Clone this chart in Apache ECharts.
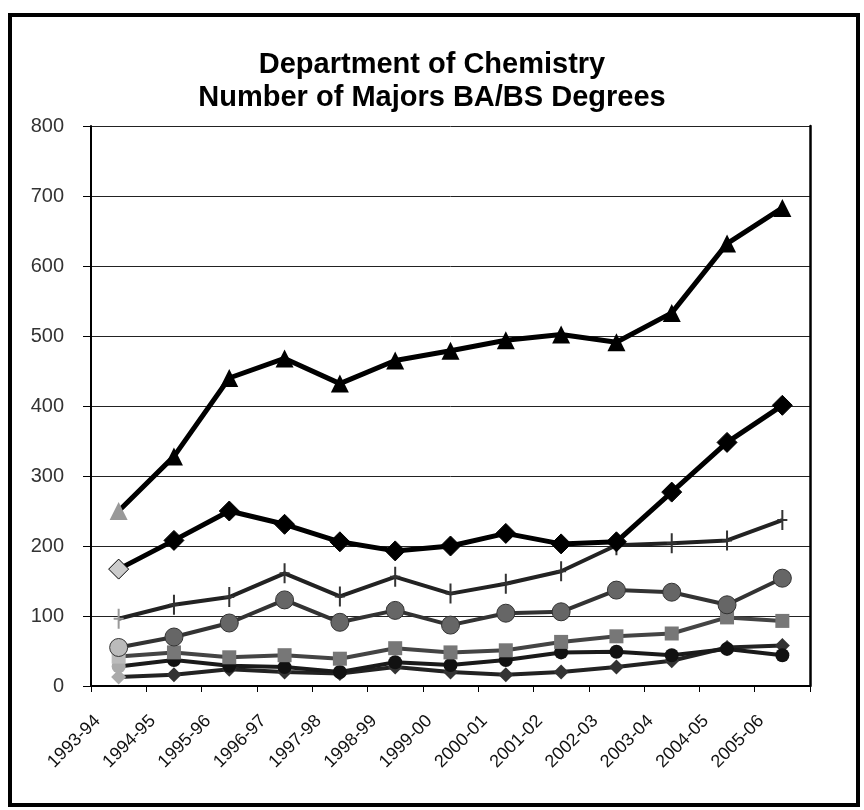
<!DOCTYPE html>
<html>
<head>
<meta charset="utf-8">
<script src="https://cdn.jsdelivr.net/npm/echarts@6/dist/echarts.min.js"></script>
<style>
html,body{margin:0;padding:0;background:#fff;}
#chart{width:864px;height:810px;}
</style>
</head>
<body>
<div id="chart"></div>
<script>
const categories = ['1993-94','1994-95','1995-96','1996-97','1997-98','1998-99','1999-00','2000-01','2001-02','2002-03','2003-04','2004-05','2005-06'];
const yTicks = [0, 100, 200, 300, 400, 500, 600, 700, 800];
const triangleSeries = [250, 328, 440, 468, 432, 465, 479, 494, 502, 491, 533, 632, 683];
const diamondSeries = [167, 208, 250, 231, 206, 193, 200, 218, 203, 206, 277, 348, 401];
const plusSeries = [96, 116, 127, 161, 128, 156, 132, 146, 164, 201, 204, 208, 237];
const greyCircleSeries = [55, 70, 90, 123, 91, 108, 87, 104, 106, 137, 134, 116, 154];
const squareSeries = [42, 48, 41, 44, 39, 54, 48, 51, 63, 71, 75, 98, 93];
const blackCircleSeries = [28, 37, 29, 27, 20, 34, 30, 37, 48, 49, 44, 53, 44];
const smallDiamondSeries = [13, 16, 24, 20, 18, 27, 20, 16, 20, 27, 36, 55, 58];

const FONT = "'Liberation Sans', Arial, sans-serif";
const plusPath = 'path://M4,0 L6,0 L6,20 L4,20 Z M0,9 L10,9 L10,11 L0,11 Z';

function mk(name, values, opt) {
  const data = values.map((v, i) => i === 0 ? {value: v, itemStyle: {color: opt.firstColor, borderColor: opt.borderColor || '#000', borderWidth: opt.borderWidth || 0}} : v);
  return {
    name: name,
    type: 'line',
    data: data,
    symbol: opt.symbol,
    symbolSize: opt.size,
    showAllSymbol: true,
    z: opt.z,
    lineStyle: {color: opt.lineColor, width: opt.lineWidth},
    itemStyle: {color: opt.markerColor, borderColor: opt.borderColor || opt.markerColor, borderWidth: opt.borderWidth || 0},
    emphasis: {disabled: true},
    animation: false
  };
}

const chart = echarts.init(document.getElementById('chart'), null, {renderer: 'canvas'});
chart.setOption({
  backgroundColor: '#fff',
  animation: false,
  title: {
    text: 'Department of Chemistry\nNumber of Majors BA/BS Degrees',
    left: 'center',
    top: 43,
    textStyle: {fontFamily: FONT, fontSize: 29, fontWeight: 'bold', color: '#000', lineHeight: 33}
  },
  graphic: [{
    type: 'rect',
    shape: {x: 10, y: 15, width: 848, height: 790},
    style: {fill: 'none', stroke: '#000', lineWidth: 4},
    z: 100
  }],
  grid: {left: 91, right: 54, top: 126, bottom: 124, show: false},
  xAxis: {
    type: 'category',
    data: categories,
    boundaryGap: true,
    axisLine: {show: true, lineStyle: {color: '#000', width: 2}},
    axisTick: {show: true, length: 6, lineStyle: {color: '#000', width: 1}},
    axisLabel: {rotate: 45, fontFamily: FONT, fontSize: 18, color: '#111', margin: 11, interval: 0, padding: [0, 30, 0, 0]}
  },
  yAxis: [{
    type: 'value',
    min: yTicks[0],
    max: yTicks[yTicks.length - 1],
    interval: 100,
    axisLine: {show: true, lineStyle: {color: '#000', width: 2}},
    axisTick: {show: true, length: 8, lineStyle: {color: '#000', width: 1}},
    axisLabel: {fontFamily: FONT, fontSize: 20, color: '#333', margin: 27},
    splitLine: {show: true, lineStyle: {color: '#222', width: 1}}
  }, {
    type: 'value',
    position: 'right',
    min: 0, max: 800, interval: 100,
    axisLine: {show: true, lineStyle: {color: '#000', width: 2.5}},
    axisTick: {show: false},
    axisLabel: {show: false},
    splitLine: {show: false}
  }],
  series: [
    mk('Small diamond', smallDiamondSeries, {symbol: 'diamond', size: 15, markerColor: '#333', firstColor: '#aaa', lineColor: '#222', lineWidth: 4, z: 2}),
    mk('Black circle', blackCircleSeries, {symbol: 'circle', size: 14, markerColor: '#111', firstColor: '#aaa', lineColor: '#1a1a1a', lineWidth: 4, z: 3}),
    mk('Square', squareSeries, {symbol: 'rect', size: 14, markerColor: '#777', firstColor: '#bbb', lineColor: '#444', lineWidth: 4, z: 4}),
    mk('Grey circle', greyCircleSeries, {symbol: 'circle', size: 18, markerColor: '#666', firstColor: '#bbb', borderColor: '#333', borderWidth: 1, lineColor: '#333', lineWidth: 4, z: 5}),
    mk('Plus', plusSeries, {symbol: plusPath, size: [10, 20], markerColor: '#333', firstColor: '#999', lineColor: '#222', lineWidth: 4, z: 6}),
    mk('Diamond', diamondSeries, {symbol: 'diamond', size: 20, markerColor: '#000', firstColor: '#ccc', borderColor: '#000', borderWidth: 1, lineColor: '#000', lineWidth: 5, z: 7}),
    mk('Triangle', triangleSeries, {symbol: 'triangle', size: 18, markerColor: '#000', firstColor: '#999', lineColor: '#000', lineWidth: 5, z: 8})
  ]
});
</script>
</body>
</html>
